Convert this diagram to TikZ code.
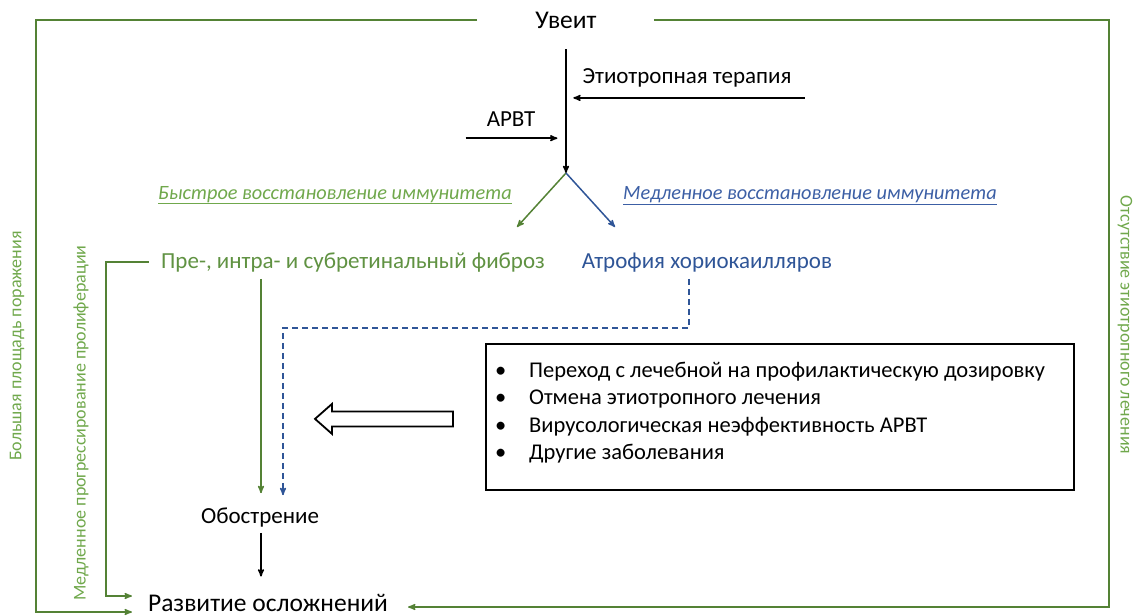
\documentclass[tikz,border=0pt]{standalone}
\usepackage{fontspec}
\setmainfont{Carlito}
\usetikzlibrary{arrows}

\definecolor{ogreen}{RGB}{84,130,53}
\definecolor{tgreen}{RGB}{96,146,66}
\definecolor{lgreen}{RGB}{112,168,76}
\definecolor{oblue}{RGB}{47,85,151}
\definecolor{lblue}{RGB}{60,95,165}

\tikzset{
  txt/.style={inner sep=0pt, anchor=base, font=\fontsize{23}{27}\selectfont},
  bigtxt/.style={txt, font=\fontsize{25.5}{30}\selectfont},
  recov/.style={inner sep=0pt, anchor=base, font=\fontsize{20.3}{24}\selectfont\itshape},
  side/.style={inner sep=0pt, text=lgreen, font=\fontsize{18}{21}\selectfont},
  listbox/.style={draw, line width=1.8pt, inner sep=0pt, minimum width=588pt, minimum height=146pt},
  listtext/.style={inner sep=0pt, text width=568pt, align=flush left,
    font=\fontsize{22.5}{27.3}\selectfont},
  gline/.style={ogreen, line width=1.5pt},
  bline/.style={black, line width=1.5pt},
  dline/.style={oblue, line width=1.5pt, dash pattern=on 6pt off 4pt},
}

\begin{document}
\begin{tikzpicture}[x=1pt, y=-1pt, >=stealth']
\useasboundingbox (0,0) rectangle (1136,616);

% texts
\node[bigtxt] (uveit) at (566,28) {Увеит};
\node[txt] (etio) at (687,83) {Этиотропная терапия};
\node[txt] (arvt) at (511,126) {АРВТ};
\node[recov, text=lgreen] (fast) at (335,199) {\underline{Быстрое восстановление иммунитета}};
\node[recov, text=lblue] (slow) at (810,199) {\underline{Медленное восстановление иммунитета}};
\node[txt, text=tgreen] (fibr) at (353,268) {Пре-, интра- и субретинальный фиброз};
\node[txt, text=oblue] (atro) at (707,268) {Атрофия хориокаилляров};
\node[txt] (obost) at (260,523) {Обострение};
\node[bigtxt] (razv) at (268,611) {Развитие осложнений};
\node[listbox, anchor=north west] (cond) at (485,343) {};
\node[listtext, anchor=north west] (items) at ([shift={(10pt,-19pt)}]cond.north west) {%
  \makebox[34pt][l]{\textbullet}Переход с лечебной на профилактическую дозировку\\
  \makebox[34pt][l]{\textbullet}Отмена этиотропного лечения\\
  \makebox[34pt][l]{\textbullet}Вирусологическая неэффективность АРВТ\\
  \makebox[34pt][l]{\textbullet}Другие заболевания};

\node[side, rotate=90] (bigarea) at (17,346) {Большая площадь поражения};
\node[side, rotate=90] (slowprog) at (81,423) {Медленное прогрессирование пролиферации};
\node[side, rotate=-90] (noetio) at (1125,325) {Отсутствие этиотропного лечения};

\coordinate (split) at (566,173);
\coordinate (gtip) at (517,227);
\coordinate (btip) at (615,227);
\coordinate (lbot) at (36,612);
\coordinate (ibot) at (106,596);
\coordinate (rbot) at (1109,607);
\coordinate (dcorner) at (283,328);

% therapy
\draw[bline, ->, shorten <=21pt] (uveit.south) -- (split);
\draw[bline, ->] ([shift={(13pt,-11pt)}]etio.south east) -- ([shift={(-9pt,-11pt)}]etio.south west);
\draw[bline, ->] ([shift={(-21pt,-12pt)}]arvt.south west) -- ([shift={(22pt,-12pt)}]arvt.south east);
\draw[gline, ->] (split) -- (gtip);
\draw[bline, oblue, ->] (split) -- (btip);

% to exacerbation
\draw[gline, ->, shorten <=7pt, shorten >=14pt] ([xshift=1pt]obost.north |- fibr.south) -- ([xshift=1pt]obost.north);
\draw[dline, ->, shorten <=7pt, shorten >=12pt] ([xshift=-18pt]atro.south) |- (dcorner) -- (dcorner |- obost.north);
\draw[bline, ->, shorten <=6pt, shorten >=17pt] ([xshift=1pt]obost.south) -- ([xshift=1pt]obost.south |- razv.north);

% hollow arrow
\coordinate (ha) at ([shift={(-32pt,-2pt)}]cond.west);
\draw[line width=1.8pt, fill=white] (ha) ++(0,-7.5) -- ++(-121,0) -- ++(0,-7.5) -- ++(-17,15)
  -- ++(17,15) -- ++(0,-7.5) -- ++(121,0) -- cycle;

% frame
\draw[gline, ->, shorten >=16pt] ([xshift=-58pt]uveit.west) -| (lbot) -- (lbot -| razv.west);
\draw[gline, ->, shorten <=12pt, shorten >=16pt] (fibr.west) -| (ibot) -- (ibot -| razv.west);
\draw[gline, ->, shorten >=20pt] ([xshift=57pt]uveit.east) -| (rbot) -- (rbot -| razv.east);
\end{tikzpicture}
\end{document}
